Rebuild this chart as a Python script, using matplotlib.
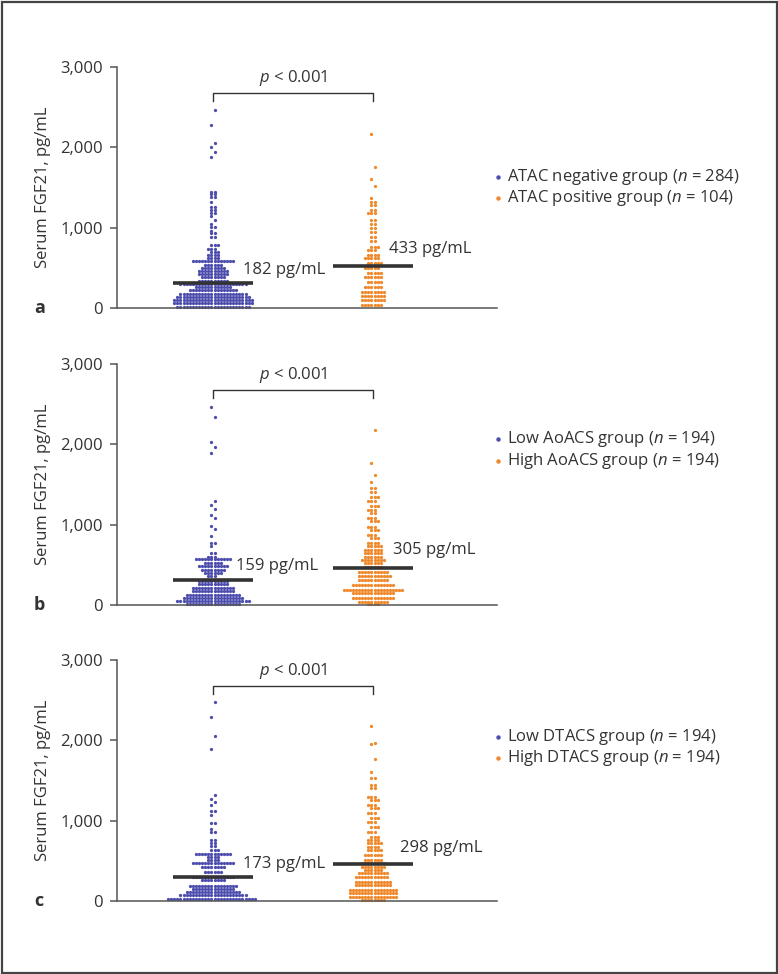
import numpy as np
import matplotlib.pyplot as plt
from matplotlib.patches import Rectangle

plt.rcParams['font.family'] = ['Open Sans', 'DejaVu Sans']
plt.rcParams['mathtext.fontset'] = 'custom'
plt.rcParams['mathtext.rm'] = 'Open Sans'
plt.rcParams['mathtext.it'] = 'Open Sans:italic'

W, H = 778, 974
BLUE = "#4d4dae"
ORANGE = "#f0892c"
INK = "#333333"
AX = "#555555"

# === DATA (value level -> number of patients at that level) ===
# panel a: ATAC
a_neg_levels = [15, 60, 100, 140, 180, 220, 260, 300, 340, 380, 420, 460, 500, 540, 580, 620, 660, 700,
                740, 780, 880, 930, 960, 1010, 1050, 1100, 1140, 1180, 1220, 1260, 1320, 1380, 1420,
                1450, 1880, 1940, 2000, 2050, 2280, 2470]
a_neg_counts = [24, 26, 26, 24, 22, 16, 12, 22, 10, 8, 10, 10, 8, 6, 14, 4, 4, 3,
                3, 3, 2, 2, 1, 2, 1, 1, 1, 2, 2, 2, 1, 2, 2,
                2, 1, 1, 1, 1, 1, 1]
a_pos_levels = [40, 100, 150, 200, 260, 320, 380, 440, 500, 560, 620, 660, 720, 760, 840, 890, 950,
                1000, 1050, 1100, 1180, 1220, 1280, 1320, 1365, 1519, 1601, 1759, 2164]
a_pos_counts = [7, 8, 8, 8, 6, 5, 6, 5, 5, 5, 5, 4, 3, 3, 2, 2, 2,
                2, 2, 2, 3, 2, 2, 2, 1, 1, 1, 1, 1]

# panel b: AoACS
b_low_levels = [15, 50, 90, 130, 170, 210, 260, 300, 360, 400, 440, 480, 520, 570, 600, 650, 740,
                770, 860, 940, 980, 1080, 1120, 1200, 1240, 1300, 1892, 1967, 2030, 2340, 2465]
b_low_counts = [18, 24, 20, 18, 14, 14, 10, 10, 3, 6, 8, 10, 6, 12, 3, 2, 1,
                2, 1, 1, 1, 1, 1, 1, 1, 1, 1, 1, 1, 1, 1]
b_high_levels = [10, 40, 85, 145, 190, 250, 310, 355, 415, 470, 520, 560, 600, 645, 685, 730, 770,
                 830, 870, 930, 975, 1040, 1080, 1140, 1180, 1230, 1290, 1350, 1411, 1453, 1535,
                 1618, 1764, 2179]
b_high_counts = [4, 10, 14, 14, 20, 14, 10, 11, 10, 6, 6, 8, 6, 6, 6, 5, 4,
                 3, 3, 3, 3, 3, 3, 2, 3, 3, 3, 3, 2, 2, 1,
                 1, 1, 1]

# panel c: DTACS
c_low_levels = [30, 71, 110, 145, 183, 258, 300, 361, 424, 474, 510, 550, 590, 640, 680, 723, 765,
                860, 900, 972, 1068, 1122, 1192, 1234, 1270, 1317, 1886, 2050, 2290, 2480]
c_low_counts = [29, 22, 18, 14, 16, 8, 14, 6, 8, 14, 4, 4, 12, 3, 2, 2, 2,
                2, 1, 2, 1, 2, 1, 1, 1, 1, 1, 1, 1, 1]
c_high_levels = [12, 54, 95, 137, 199, 241, 303, 344, 385, 427, 469, 510, 572, 635, 676, 718, 759,
                 800, 863, 925, 988, 1029, 1091, 1154, 1195, 1257, 1300, 1403, 1444, 1527, 1610,
                 1764, 1950, 1971, 2179]
c_high_counts = [8, 16, 16, 16, 12, 12, 11, 10, 6, 8, 8, 6, 6, 5, 4, 5, 4,
                 3, 3, 3, 3, 3, 3, 3, 3, 3, 3, 2, 2, 2, 1,
                 1, 1, 1, 1]

# level of the horizontal bar in each group
a_bars = [310, 520]
b_bars = [310, 460]
c_bars = [300, 460]
a_notes = ["182 pg/mL", "433 pg/mL"]
b_notes = ["159 pg/mL", "305 pg/mL"]
c_notes = ["173 pg/mL", "298 pg/mL"]
a_legend = ["ATAC negative group", "ATAC positive group"]
b_legend = ["Low AoACS group", "High AoACS group"]
c_legend = ["Low DTACS group", "High DTACS group"]
a_n = [284, 104]
b_n = [194, 194]
c_n = [194, 194]

panels = [
    dict(tag="a", zero=308, groups=[(a_neg_levels, a_neg_counts), (a_pos_levels, a_pos_counts)],
         bars=a_bars, notes=a_notes, legend=a_legend, n=a_n,
         note_pos=[(325, 270), (389, 249)], leg_y=[177, 198]),
    dict(tag="b", zero=605, groups=[(b_low_levels, b_low_counts), (b_high_levels, b_high_counts)],
         bars=b_bars, notes=b_notes, legend=b_legend, n=b_n,
         note_pos=[(318, 566), (393, 550)], leg_y=[439, 461]),
    dict(tag="c", zero=901, groups=[(c_low_levels, c_low_counts), (c_high_levels, c_high_counts)],
         bars=c_bars, notes=c_notes, legend=c_legend, n=c_n,
         note_pos=[(325, 864), (400, 848)], leg_y=[737, 758]),
]

fig = plt.figure(figsize=(W / 100, H / 100), dpi=100)

# outer frame
fig.add_artist(Rectangle((1.5 / W, 1.5 / H), (W - 3) / W, (H - 3) / H, transform=fig.transFigure,
                         fill=False, edgecolor="#444444", linewidth=1.6))

AX_LEFT, AX_RIGHT, AX_H = 117, 497, 241
X1, PX_PER_UNIT = 213, 160.0
DX = 3.1 / PX_PER_UNIT  # spacing between dots in a row
colors = [BLUE, ORANGE]


def fx(px):
    return px / W


def fy(py):
    return 1 - py / H


for p in panels:
    zero = p["zero"]
    ax = fig.add_axes([fx(AX_LEFT), fy(zero), (AX_RIGHT - AX_LEFT) / W, AX_H / H])
    xlo = 1 - (X1 - AX_LEFT) / PX_PER_UNIT
    xhi = 1 + (AX_RIGHT - X1) / PX_PER_UNIT
    ax.set_xlim(xlo, xhi)
    ax.set_ylim(0, 3000)
    ypx = 3000 / AX_H  # data units per pixel

    for gi, (levels, counts) in enumerate(p["groups"]):
        xs, ys = [], []
        for ri, (v, c) in enumerate(zip(levels, counts)):
            # stagger alternate rows by half a dot so the swarm interlocks
            shift = (0.5 if ri % 2 else -0.5) * DX if c % 2 else 0.0
            offs = (np.arange(c) - (c - 1) / 2) * DX + shift
            xs.extend(gi + 1 + offs)
            ys.extend([v] * c)
        ax.scatter(xs, ys, s=5.5, color=colors[gi], linewidths=0, clip_on=False, zorder=2)
        ax.plot([gi + 1 - 0.25, gi + 1 + 0.25], [p["bars"][gi]] * 2, color=INK, lw=2.6,
                solid_capstyle="butt", zorder=3)

    # median notes
    (rx, ry), (lx, ly) = p["note_pos"]
    ax.text(1 + (rx - X1) / PX_PER_UNIT, (zero - ry) * ypx, p["notes"][0], ha="right", va="center",
            fontsize=12, color=INK)
    ax.text(1 + (lx - X1) / PX_PER_UNIT, (zero - ly) * ypx, p["notes"][1], ha="left", va="center",
            fontsize=12, color=INK)

    # significance bracket
    b_hi = 215 * ypx
    b_lo = 207 * ypx
    ax.plot([1, 1, 2, 2], [b_lo, b_hi, b_hi, b_lo], color=INK, lw=1.0, clip_on=False)
    ax.text(1.5, 230 * ypx, r"$\mathit{p}$ < 0.001", ha="center", va="center", fontsize=12, color=INK)

    for s in ["top", "right"]:
        ax.spines[s].set_visible(False)
    for s in ["left", "bottom"]:
        ax.spines[s].set_color(AX)
        ax.spines[s].set_linewidth(1.1)
    ax.set_xticks([])
    ax.set_yticks([0, 1000, 2000, 3000])
    ax.set_yticklabels(["0", "1,000", "2,000", "3,000"])
    ax.tick_params(axis="y", length=5, width=1.1, color=AX, pad=5, labelsize=12, labelcolor=INK)
    ax.set_ylabel("Serum FGF21, pg/mL", fontsize=12, color=INK)
    ax.yaxis.set_label_coords(-(AX_LEFT - 51) / (AX_RIGHT - AX_LEFT), 0.5)

    fig.text(fx(34), fy(zero), p["tag"], fontsize=13, fontweight="bold", color=INK, ha="left", va="center")

    # legend
    for gi in range(2):
        fig.text(fx(507), fy(p["leg_y"][gi]),
                 p["legend"][gi] + r" ($\mathit{n}$ = " + str(p["n"][gi]) + ")",
                 fontsize=12, color=INK, ha="left", va="center")
        fig.add_artist(plt.Line2D([fx(498)], [fy(p["leg_y"][gi])], marker="o", markersize=2.2,
                                  color=colors[gi], linestyle="none", transform=fig.transFigure))

fig.savefig("out.png", dpi=100)
